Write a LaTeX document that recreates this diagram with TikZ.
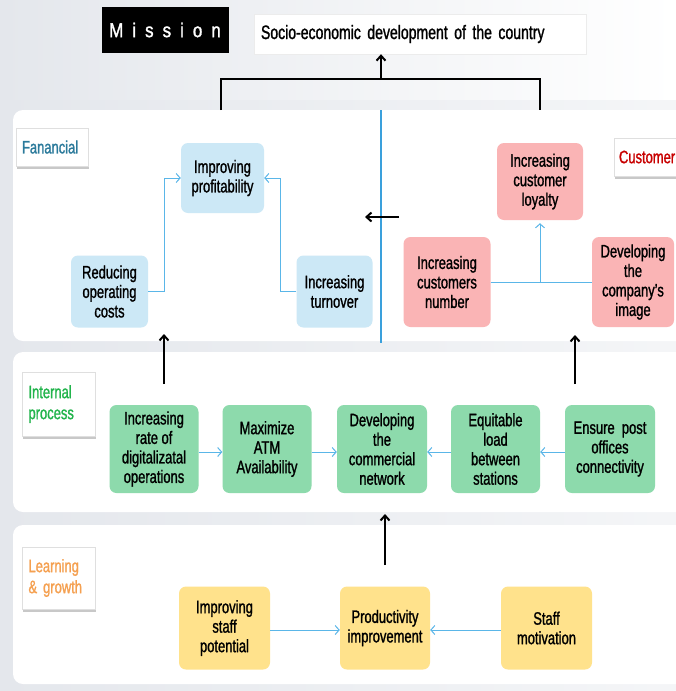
\documentclass[tikz,border=0pt]{standalone}
\usepackage{fontspec}
\setmainfont[FakeStretch=0.72,FakeBold=1.2]{Liberation Sans}
\newfontfamily\misfont[FakeStretch=0.85,FakeBold=1.5,LetterSpace=45]{Liberation Sans}
\usetikzlibrary{arrows.meta,shadows}
\definecolor{bgc}{RGB}{228,231,236}
\definecolor{finc}{RGB}{204,232,246}
\definecolor{cusc}{RGB}{250,180,181}
\definecolor{intc}{RGB}{141,218,172}
\definecolor{lrnc}{RGB}{255,226,140}
\definecolor{conc}{RGB}{90,182,232}
\definecolor{divc}{RGB}{58,160,220}
\definecolor{fanc}{RGB}{43,122,155}
\definecolor{cusl}{RGB}{200,0,0}
\definecolor{intl}{RGB}{34,180,76}
\definecolor{lrnl}{RGB}{245,160,80}
\begin{document}
\begin{tikzpicture}[x=1pt,y=-1pt,
  box/.style={rounded corners=7pt, align=center, inner sep=0pt,
    font=\fontsize{18}{19.5}\selectfont},
  fin/.style={box, fill=finc},
  cus/.style={box, fill=cusc},
  int/.style={box, fill=intc, minimum width=89, minimum height=88},
  lrn/.style={box, fill=lrnc, minimum width=91, minimum height=83},
  lbl/.style={draw=gray!25, fill=white, align=left, inner sep=0pt,
    drop shadow={shadow xshift=1pt, shadow yshift=-2.5pt, fill=gray!60, opacity=0.7},
    font=\fontsize{18}{21}\selectfont},
  panel/.style={fill=white, rounded corners=10pt},
  con/.style={conc, line width=1pt, -{Straight Barb[length=4pt,width=9pt]}},
  blk/.style={black, line width=2pt, -{Straight Barb[length=5pt,width=9pt]}},
]
\useasboundingbox (0,0) rectangle (676,691);
\clip (0,0) rectangle (676,691);
\shade[left color=bgc, right color=white] (0,0) rectangle (676,691);
\shade[left color=bgc, right color=bgc!40] (0,100) rectangle (676,691);

% panels
\fill[panel] (13,110) rectangle (700,341);
\fill[panel] (13,352) rectangle (700,512);
\fill[panel] (13,525) rectangle (700,684);

% mission
\node[fill=black, text=white, minimum width=127, minimum height=46, inner sep=0pt,
  font=\misfont\fontsize{20}{24}\selectfont] (mission) at (165,30) {Mission};
\node[fill=white, draw=gray!15, minimum width=332, minimum height=40, inner sep=0pt,
  text width=318, align=left, font=\fontsize{19.5}{22}\selectfont] (socio) at (420,34) {Socio-economic development of the country};

% bracket
\coordinate (bl) at (221,110);
\coordinate (br) at (540,110);
\coordinate (bm) at (381,79);
\draw[black, line width=2.5pt] (bl) |- (br |- bm) -- (br);
\draw[blk] (bm) -- (socio.south -| bm);

% divider
\coordinate (dt) at (381,110);
\coordinate (db) at (381,343);
\draw[divc, line width=2.5pt] (dt) -- (db);

% labels
\node[lbl, text=fanc, minimum width=72, minimum height=38, text width=60] (lfan) at (52,147) {Fanancial};
\node[lbl, text=cusl, minimum width=72, minimum height=38, text width=62] (lcus) at (650,157) {Customer};
\node[lbl, text=intl, minimum width=73, minimum height=64, text width=60] (lint) at (58.5,404) {Internal\\process};
\node[lbl, text=lrnl, minimum width=73, minimum height=62, text width=60] (llrn) at (58.5,578) {Learning\\\& growth};

% financial
\node[fin, minimum width=83, minimum height=70] (prof) at (222.5,178) {Improving\\profitability};
\node[fin, minimum width=77, minimum height=72] (cost) at (109.5,291.5) {Reducing\\operating\\costs};
\node[fin, minimum width=76, minimum height=72] (turn) at (334.5,291.5) {Increasing\\turnover};
\draw[con] (cost.east) -- ++(16,0) |- (prof.west);
\draw[con] (turn.west) -- ++(-16,0) |- (prof.east);

% customer
\node[cus, minimum width=86, minimum height=77] (loyal) at (540,181.5) {Increasing\\customer\\loyalty};
\node[cus, minimum width=87, minimum height=90] (cnum) at (447,282) {Increasing\\customers\\number};
\node[cus, minimum width=82, minimum height=90] (cimg) at (633,282) {Developing\\the\\company's\\image};
\draw[conc, line width=1pt] (cnum.east) -- (cimg.west);
\coordinate (cm) at (loyal.south |- cnum.east);
\draw[con] (cm) -- ([yshift=-3pt]loyal.south);

% left arrow
\coordinate (la1) at (399,217);
\coordinate (la2) at (365,217);
\draw[blk] (la1) -- (la2);

% internal process
\node[int] (d1) at (154,449) {Increasing\\rate of\\digitalizatal\\operations};
\node[int] (d2) at (267,449) {Maximize\\ATM\\Availability};
\node[int, minimum width=90] (d3) at (382,449) {Developing\\the\\commercial\\network};
\node[int] (d4) at (495.5,449) {Equitable\\load\\between\\stations};
\node[int, minimum width=90] (d5) at (610,449) {Ensure~~post\\offices\\connectivity};
\draw[con] (d1.east |- 0,452) -- (d2.west |- 0,452);
\draw[con] (d2.east |- 0,452) -- (d3.west |- 0,452);
\draw[con] (d4.west |- 0,452) -- (d3.east |- 0,452);
\draw[con] (d5.west |- 0,452) -- (d4.east |- 0,452);

% arrows between panels
\coordinate (a1s) at (164,384);
\coordinate (a1e) at (164,334);
\coordinate (a2s) at (575,384);
\coordinate (a2e) at (575,335);
\coordinate (a3s) at (385,565);
\coordinate (a3e) at (385,514);
\draw[blk] (a1s) -- (a1e);
\draw[blk] (a2s) -- (a2e);
\draw[blk] (a3s) -- (a3e);

% learning & growth
\node[lrn] (l1) at (224.5,628) {Improving\\staff\\potential};
\node[lrn, minimum width=90] (l2) at (385,628) {Productivity\\improvement};
\node[lrn] (l3) at (546.5,628) {Staff\\motivation};
\draw[con] (l1.east |- 0,630) -- (l2.west |- 0,630);
\draw[con] (l3.west |- 0,630) -- (l2.east |- 0,630);
\end{tikzpicture}
\end{document}
